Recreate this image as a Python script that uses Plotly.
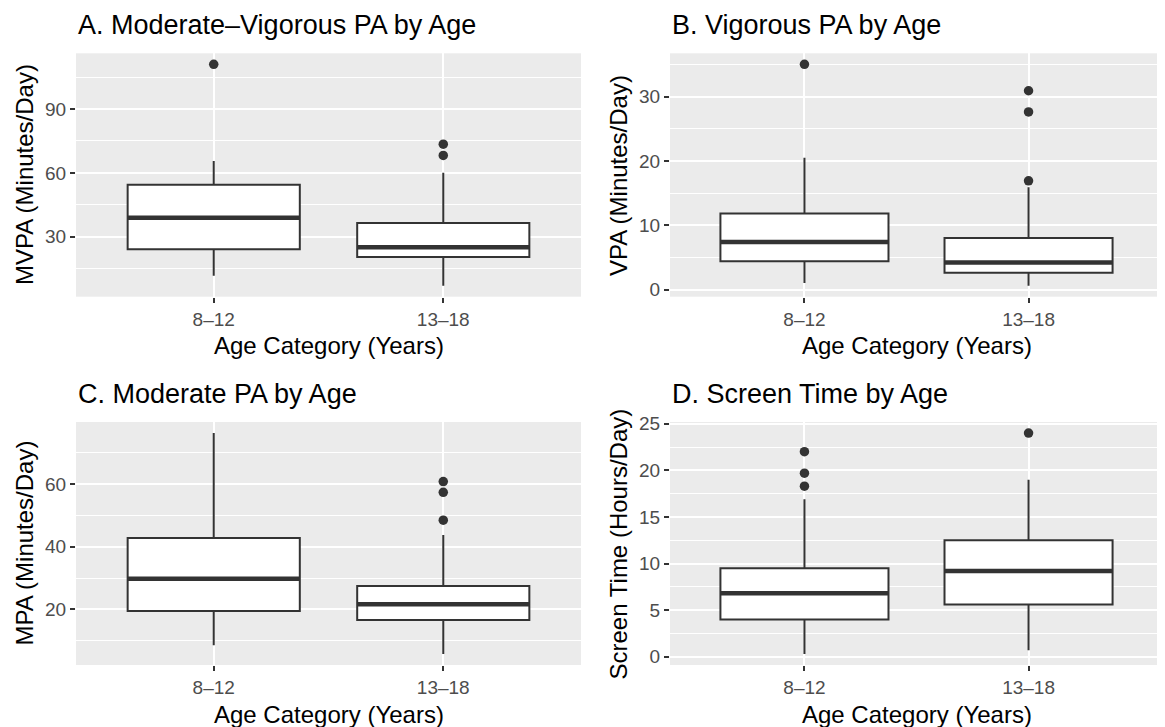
import plotly.graph_objects as go

OFF = 8  # default page body margin
W, H = 1165 - OFF, 727 - OFF

ages = ["8–12", "13–18"]

# MVPA (Minutes/Day)
mvpa_low = [11.6, 7.0]
mvpa_q1 = [24.1, 20.5]
mvpa_med = [38.9, 25.0]
mvpa_q3 = [54.4, 36.4]
mvpa_high = [65.6, 60.0]
mvpa_out = [[111.0], [73.5, 68.2]]

# VPA (Minutes/Day)
vpa_low = [1.0, 0.6]
vpa_q1 = [4.4, 2.6]
vpa_med = [7.4, 4.2]
vpa_q3 = [11.8, 8.0]
vpa_high = [20.5, 15.9]
vpa_out = [[35.0], [30.9, 27.6, 16.9]]

# MPA (Minutes/Day)
mpa_low = [8.6, 5.8]
mpa_q1 = [19.5, 16.6]
mpa_med = [29.8, 21.7]
mpa_q3 = [42.8, 27.5]
mpa_high = [76.3, 43.8]
mpa_out = [[], [60.8, 57.4, 48.5]]

# Screen time (Hours/Day)
st_low = [0.3, 0.7]
st_q1 = [4.0, 5.6]
st_med = [6.8, 9.2]
st_q3 = [9.5, 12.5]
st_high = [16.9, 19.0]
st_out = [[22.0, 19.7, 18.3], [24.0]]

titles = ["A. Moderate–Vigorous PA by Age", "B. Vigorous PA by Age",
          "C. Moderate PA by Age", "D. Screen Time by Age"]
ytitles = ["MVPA (Minutes/Day)", "VPA (Minutes/Day)",
           "MPA (Minutes/Day)", "Screen Time (Hours/Day)"]
xtitle = "Age Category (Years)"
major_dtick = [30, 10, 20, 5]

panels = [
    (mvpa_low, mvpa_q1, mvpa_med, mvpa_q3, mvpa_high, mvpa_out),
    (vpa_low, vpa_q1, vpa_med, vpa_q3, vpa_high, vpa_out),
    (mpa_low, mpa_q1, mpa_med, mpa_q3, mpa_high, mpa_out),
    (st_low, st_q1, st_med, st_q3, st_high, st_out),
]

# panel pixel boxes in page coords: (left, right, top, bottom)
px_boxes = [(76, 581, 53.3, 296.7), (670, 1163, 53.3, 296.7),
            (76, 581, 422.0, 665.0), (670, 1163, 422.0, 665.0)]

FONT = "Liberation Sans, Arial, sans-serif"
LINE = "#333333"
BOXW = 0.75


def fx(px):
    return (px - OFF) / W


def fy(py):
    return 1 - (py - OFF) / H


fig = go.Figure()
layout = dict(width=W, height=H, margin=dict(l=0, r=0, t=0, b=0),
              paper_bgcolor="white", plot_bgcolor="#EBEBEB",
              showlegend=False, boxgap=1 - BOXW, boxgroupgap=0,
              font=dict(family=FONT), shapes=[], annotations=[])

for i, (low, q1, med, q3, high, outs) in enumerate(panels):
    ax = "" if i == 0 else str(i + 1)
    xa, ya = "x" + ax, "y" + ax
    l, r, t, b = px_boxes[i]
    fig.add_trace(go.Box(
        x=ages, lowerfence=low, q1=q1, median=med, q3=q3, upperfence=high,
        fillcolor="white", line=dict(color=LINE, width=2),
        whiskerwidth=0, boxpoints=False, xaxis=xa, yaxis=ya, hoverinfo="skip"))
    # outliers
    ox, oy = [], []
    for a, vals in zip(ages, outs):
        for v in vals:
            ox.append(a)
            oy.append(v)
    fig.add_trace(go.Scatter(x=ox, y=oy, mode="markers",
                             marker=dict(color=LINE, size=9.5),
                             xaxis=xa, yaxis=ya, hoverinfo="skip"))
    # thick median lines (ggplot style)
    for k, m in enumerate(med):
        layout["shapes"].append(dict(type="line", xref=xa, yref=ya,
                                     x0=k - BOXW / 2, x1=k + BOXW / 2, y0=m, y1=m,
                                     line=dict(color=LINE, width=4.5)))
    allv = low + high + [v for o in outs for v in o]
    lo, hi = min(allv), max(allv)
    pad = 0.05 * (hi - lo)
    dt = major_dtick[i]
    layout["xaxis" + ax] = dict(
        domain=[fx(l), fx(r)], anchor=ya, type="category",
        categoryorder="array", categoryarray=ages, range=[-0.6, 1.6],
        showgrid=True, gridcolor="white", gridwidth=2, zeroline=False,
        ticks="outside", ticklen=5, tickwidth=1.5, tickcolor=LINE,
        tickfont=dict(size=19, color="#4D4D4D", family=FONT),
        showline=False, automargin=False, fixedrange=True)
    layout["yaxis" + ax] = dict(
        domain=[fy(b), fy(t)], anchor=xa, range=[lo - pad, hi + pad],
        tick0=0, dtick=dt, showgrid=True, gridcolor="white", gridwidth=2,
        zeroline=False, ticks="outside", ticklen=5, tickwidth=1.5, tickcolor=LINE,
        tickfont=dict(size=19, color="#4D4D4D", family=FONT),
        minor=dict(tick0=0, dtick=dt / 2, showgrid=True, gridcolor="white",
                   gridwidth=1, ticks=""),
        showline=False, automargin=False, fixedrange=True)
    # panel title
    layout["annotations"].append(dict(
        text=titles[i], xref="paper", yref="paper", x=fx(l), y=fy(t - 28),
        xanchor="left", yanchor="middle", showarrow=False,
        font=dict(size=27, color="black", family=FONT)))
    # x axis title
    layout["annotations"].append(dict(
        text=xtitle, xref="paper", yref="paper", x=fx((l + r) / 2),
        y=fy(b + 49), xanchor="center", yanchor="middle", showarrow=False,
        font=dict(size=24, color="black", family=FONT)))
    # y axis title
    layout["annotations"].append(dict(
        text=ytitles[i], xref="paper", yref="paper", x=fx(l - 52),
        y=fy((t + b) / 2), xanchor="center", yanchor="middle",
        textangle=-90, showarrow=False,
        font=dict(size=24, color="black", family=FONT)))

fig.update_layout(**layout)
fig.write_html("out.html")
